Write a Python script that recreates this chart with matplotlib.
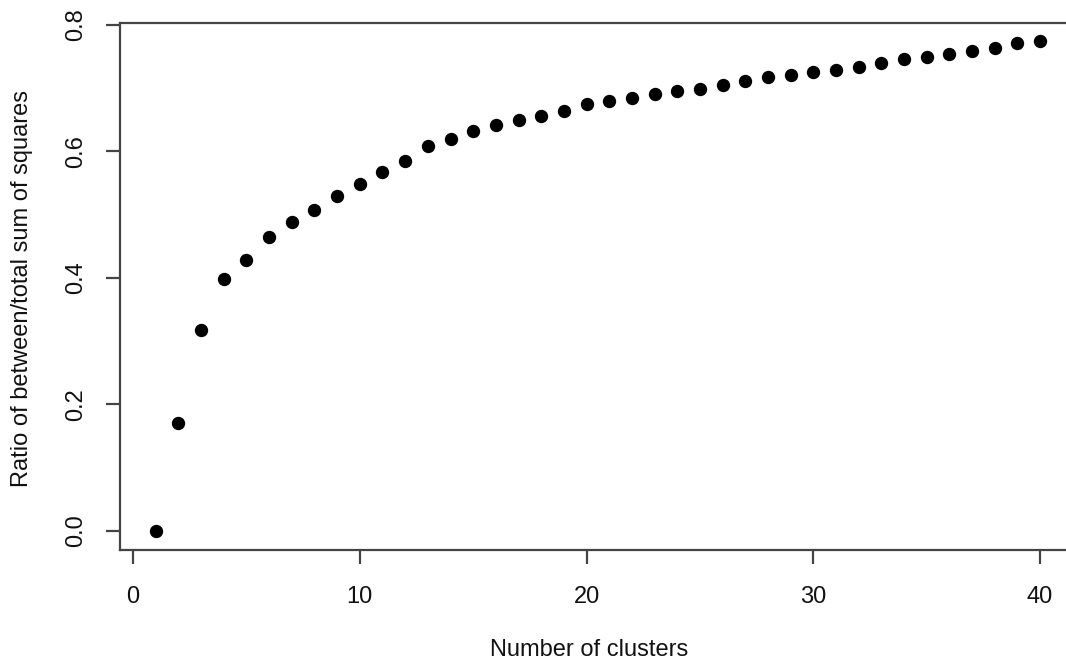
import numpy as np
import matplotlib
matplotlib.use('Agg')
import matplotlib.pyplot as plt

# Data
n_clusters = list(range(1, 41))
ratio = [0.000, 0.170, 0.318, 0.398, 0.429, 0.465, 0.489, 0.508, 0.530, 0.549,
         0.567, 0.585, 0.608, 0.620, 0.632, 0.642, 0.649, 0.656, 0.664, 0.675,
         0.680, 0.685, 0.690, 0.695, 0.699, 0.705, 0.712, 0.717, 0.721, 0.725,
         0.729, 0.733, 0.740, 0.746, 0.750, 0.754, 0.759, 0.764, 0.771, 0.774]
x_ticks = [0, 10, 20, 30, 40]
y_ticks = [0.0, 0.2, 0.4, 0.6, 0.8]

plt.rcParams['font.family'] = ['Liberation Sans', 'DejaVu Sans']

fig = plt.figure(figsize=(10.66, 6.70), dpi=100)
ax = fig.add_axes([0.1129, 0.1791, 0.896, 0.7866])

ax.plot(n_clusters, ratio, 'o', color='black', markersize=8.6, clip_on=False)

ax.set_xlim(-0.56, 41.56)
ax.set_ylim(-0.030, 0.803)
ax.set_xticks(x_ticks)
ax.set_yticks(y_ticks)
ax.set_xticklabels([str(v) for v in x_ticks])
ax.set_yticklabels(['%.1f' % v for v in y_ticks], rotation=90, va='center')

for s in ax.spines.values():
    s.set_linewidth(1.6)
    s.set_color('#444444')
ax.tick_params(axis='both', length=10, width=1.6, color='#444444',
               labelsize=17, labelcolor='#111111')
ax.tick_params(axis='x', pad=16)
ax.tick_params(axis='y', pad=14)

fig.text(0.553, 0.030, 'Number of clusters', ha='center', va='center',
         fontsize=17, color='#111111')
fig.text(0.021, 0.57, 'Ratio of between/total sum of squares', ha='center',
         va='center', rotation=90, fontsize=17, color='#111111')

plt.savefig('out.png', dpi=100)
